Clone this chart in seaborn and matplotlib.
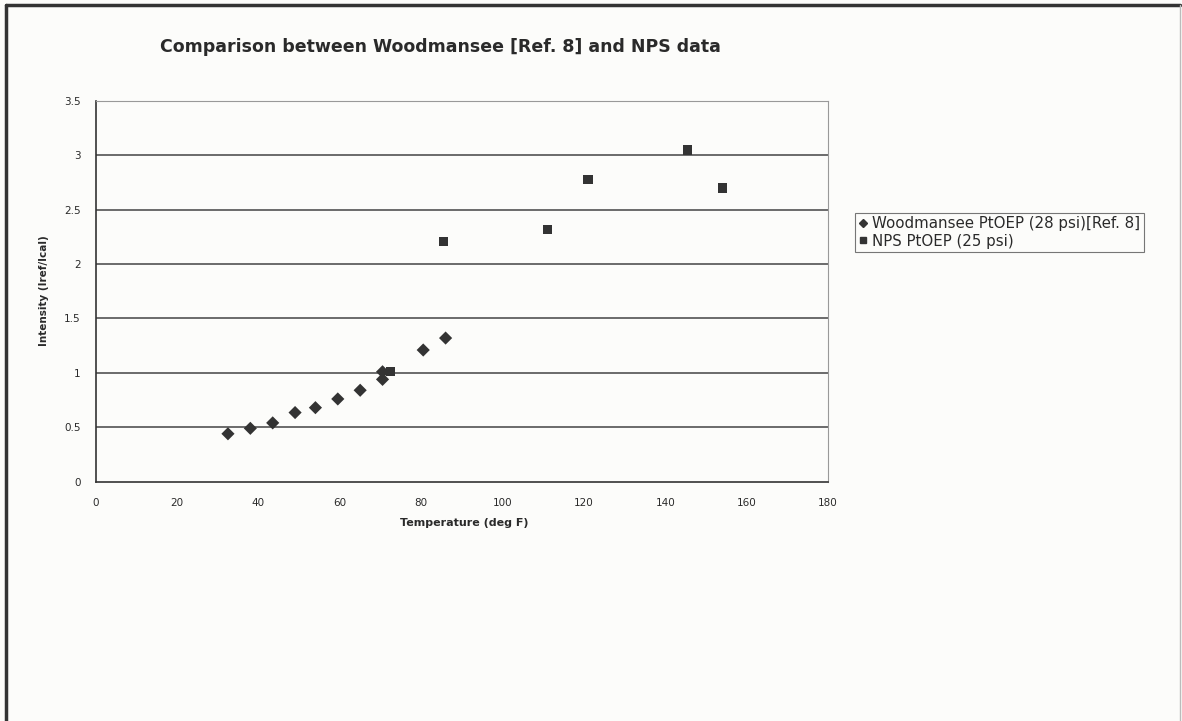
import pandas as pd
import seaborn as sns
import matplotlib.pyplot as plt
from matplotlib.lines import Line2D

# ── data ──────────────────────────────────────────────────────
wood_temp = [32.5, 38, 43.5, 49, 54, 59.5, 65, 70.5, 70.5, 80.5, 86]
wood_int = [0.44, 0.49, 0.54, 0.635, 0.68, 0.76, 0.84, 0.94, 1.01, 1.21, 1.32]
nps_temp = [72.5, 85.5, 111, 121, 145.5, 154]
nps_int = [1.01, 2.21, 2.32, 2.78, 3.05, 2.70]
series_names = ['Woodmansee PtOEP (28 psi)[Ref. 8]', 'NPS PtOEP (25 psi)']
x_ticks = [0, 20, 40, 60, 80, 100, 120, 140, 160, 180]
y_ticks = [0, 0.5, 1, 1.5, 2, 2.5, 3, 3.5]

df = pd.concat([
    pd.DataFrame({'temp': wood_temp, 'intensity': wood_int, 'series': series_names[0]}),
    pd.DataFrame({'temp': nps_temp, 'intensity': nps_int, 'series': series_names[1]}),
])

sns.set_theme(style='white')
plt.rcParams['font.family'] = ['DejaVu Sans']

bg = '#fcfcfa'
ink = '#2a2a2a'
fig = plt.figure(figsize=(11.82, 7.21), dpi=100, facecolor=bg)
ax = fig.add_axes([0.081, 0.332, 0.6195, 0.528], facecolor=bg)

sns.scatterplot(data=df, x='temp', y='intensity', hue='series', style='series',
                markers={series_names[0]: 'D', series_names[1]: 's'},
                palette={series_names[0]: '#333333', series_names[1]: '#333333'},
                s=45, linewidth=0, ax=ax, legend=False, zorder=3)

ax.set_xlim(0, 180)
ax.set_ylim(0, 3.5)
ax.set_xticks(x_ticks)
ax.set_yticks(y_ticks)
ax.set_xticklabels([str(t) for t in x_ticks], fontsize=7.5, color=ink)
ax.set_yticklabels([f'{t:g}' for t in y_ticks], fontsize=7.5, color=ink)
ax.tick_params(axis='both', length=3, width=0.8, color='#333333', direction='out')
ax.tick_params(axis='x', pad=9)
ax.tick_params(axis='y', pad=8)
for t in y_ticks[1:]:
    ax.axhline(t, color='#444444', lw=1.1, zorder=1)
for side in ['left', 'bottom']:
    ax.spines[side].set_color('#333333')
    ax.spines[side].set_linewidth(1.2)
for side in ['right', 'top']:
    ax.spines[side].set_color('#999999')
    ax.spines[side].set_linewidth(0.8)

ax.set_xlabel('Temperature (deg F)', fontsize=8, fontweight='bold', color=ink)
ax.set_ylabel('Intensity (Iref/Ical)', fontsize=7.5, fontweight='bold', color=ink)
ax.xaxis.set_label_coords(0.503, -0.095)
ax.yaxis.set_label_coords(-0.064, 0.503)

fig.text(0.373, 0.935, 'Comparison between Woodmansee [Ref. 8] and NPS data',
         ha='center', va='center', fontsize=12.5, fontweight='bold', color=ink)

handles = [Line2D([], [], ls='none', marker='D', color='#333333', markersize=4.5),
           Line2D([], [], ls='none', marker='s', color='#333333', markersize=5)]
leg = fig.legend(handles, series_names, loc='upper left', bbox_to_anchor=(0.723, 0.705),
                 fontsize=10.8, frameon=True, fancybox=False, handlelength=0.6,
                 handletextpad=0.3, borderpad=0.25, labelspacing=0.15, borderaxespad=0)
for txt in leg.get_texts():
    txt.set_color(ink)
leg.get_frame().set_edgecolor('#555555')
leg.get_frame().set_linewidth(0.8)
leg.get_frame().set_facecolor(bg)

# scanned page frame
fig.add_artist(Line2D([0.005, 0.005], [0.0, 0.993], transform=fig.transFigure, color='#333333', lw=2.5))
fig.add_artist(Line2D([0.005, 0.998], [0.993, 0.993], transform=fig.transFigure, color='#333333', lw=2.5))
fig.add_artist(Line2D([0.998, 0.998], [0.0, 0.993], transform=fig.transFigure, color='#bbbbbb', lw=1))

fig.savefig('out.png', dpi=100, facecolor=bg)
